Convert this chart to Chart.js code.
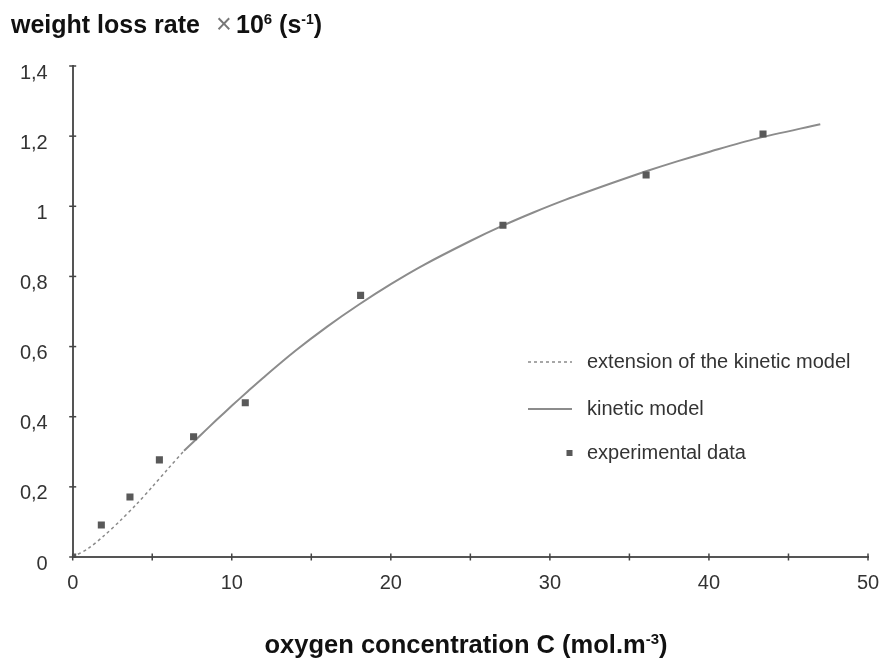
<!DOCTYPE html>
<html>
<head>
<meta charset="utf-8">
<title>weight loss rate vs oxygen concentration</title>
<script src="https://cdn.jsdelivr.net/npm/chart.js@4/dist/chart.umd.min.js"></script>
<style>
  html, body { margin: 0; padding: 0; background: #fff; }
  #wrap { width: 885px; height: 660px; }
</style>
</head>
<body>
<div id="wrap"><canvas id="chart" width="885" height="660"></canvas></div>
<script>
// experimental points (C in mol.m-3, rate x 1e6 in s-1)
const expC    = [0, 1.8, 3.6, 5.45, 7.6, 10.85, 18.1, 27.05, 36.05, 43.4];
const expRate = [0, 0.091, 0.171, 0.277, 0.343, 0.44, 0.746, 0.946, 1.089, 1.206];

// kinetic model curve
const modelC    = [7, 8, 9, 10, 11, 12, 14, 16, 18, 20, 22, 25, 27, 29, 31, 34, 36, 38, 40, 43, 47];
const modelRate = [0.303, 0.346, 0.389, 0.431, 0.472, 0.512, 0.588, 0.657, 0.72, 0.778, 0.831, 0.901, 0.944, 0.983, 1.019, 1.068, 1.099, 1.128, 1.155, 1.193, 1.234];

// dotted extension towards the origin
const extC    = [0, 1, 2, 3, 4, 5, 6, 7];
const extRate = [0, 0.025, 0.062, 0.104, 0.15, 0.2, 0.252, 0.303];

const labels = ["extension of the kinetic model", "kinetic model", "experimental data"];

const FONT = "'Liberation Sans', Arial, Helvetica, sans-serif";

function toPoints(xs, ys) {
    return xs.map((x, i) => ({x: x, y: ys[i]}));
}

function commaNum(v) {
    let s = String(Math.round(v * 10) / 10);
    return s.replace(".", ",");
}

// draws text made of parts, some of them superscript
function drawRich(ctx, parts, x, y) {
    parts.forEach(p => {
        ctx.font = (p.bold ? "bold " : "") + p.size + "px " + FONT;
        ctx.fillStyle = p.color || "#111";
        if (p.at !== undefined) x = p.at;
        ctx.fillText(p.t, x, y - (p.up || 0));
        x += ctx.measureText(p.t).width;
    });
    return x;
}

function richWidth(ctx, parts) {
    let w = 0;
    parts.forEach(p => {
        ctx.font = (p.bold ? "bold " : "") + p.size + "px " + FONT;
        w += ctx.measureText(p.t).width;
    });
    return w;
}

const decorPlugin = {
    id: "decor",
    afterDraw(chart) {
        let ctx = chart.ctx;
        let xs = chart.scales.x, ys = chart.scales.y;
        let area = chart.chartArea;

        ctx.save();
        // ticks crossing the axes
        ctx.strokeStyle = "#444";
        ctx.lineWidth = 1.5;
        xs.ticks.forEach(t => {
            let px = xs.getPixelForValue(t.value);
            ctx.beginPath();
            ctx.moveTo(px, area.bottom - 3.5);
            ctx.lineTo(px, area.bottom + 3.5);
            ctx.stroke();
        });
        ys.ticks.forEach(t => {
            let py = ys.getPixelForValue(t.value);
            ctx.beginPath();
            ctx.moveTo(area.left - 3.5, py);
            ctx.lineTo(area.left + 3.5, py);
            ctx.stroke();
        });

        // axis titles
        ctx.textAlign = "left";
        ctx.textBaseline = "alphabetic";
        drawRich(ctx, [
            {t: "weight loss rate", bold: true, size: 25},
            {t: "\u00d7", size: 27, color: "#777", at: 216},
            {t: "10", bold: true, size: 25, at: 236},
            {t: "6", bold: true, size: 15, up: 9},
            {t: " (s", bold: true, size: 25},
            {t: "-1", bold: true, size: 14, up: 9},
            {t: ")", bold: true, size: 25}
        ], 11, 33);

        let xParts = [
            {t: "oxygen concentration C (mol.m", bold: true, size: 25.5},
            {t: "-3", bold: true, size: 15, up: 9},
            {t: ")", bold: true, size: 25.5}
        ];
        let w = richWidth(ctx, xParts);
        drawRich(ctx, xParts, 466 - w / 2, 653);

        // legend inside the plot
        let sets = chart.data.datasets;
        let rows = [
            {ds: sets[0], y: 362},
            {ds: sets[1], y: 409},
            {ds: sets[2], y: 453}
        ];
        ctx.font = "20px " + FONT;
        ctx.textBaseline = "middle";
        rows.forEach(r => {
            let ds = r.ds;
            if (ds.showLine === false) {
                ctx.fillStyle = ds.pointBackgroundColor;
                ctx.fillRect(566.5, r.y - 3, 6, 6);
            } else {
                ctx.strokeStyle = ds.borderColor;
                ctx.lineWidth = ds.borderWidth;
                ctx.setLineDash(ds.borderDash || []);
                ctx.beginPath();
                ctx.moveTo(528, r.y);
                ctx.lineTo(572, r.y);
                ctx.stroke();
                ctx.setLineDash([]);
            }
            ctx.fillStyle = "#333";
            ctx.fillText(ds.label, 587, r.y);
        });
        ctx.restore();
    }
};

new Chart(document.getElementById("chart"), {
    type: "scatter",
    data: {
        datasets: [
            {
                label: labels[0],
                data: toPoints(extC, extRate),
                showLine: true,
                borderColor: "#8a8a8a",
                borderWidth: 1.5,
                borderDash: [3, 3],
                pointRadius: 0,
                tension: 0.3,
                order: 2
            },
            {
                label: labels[1],
                data: toPoints(modelC, modelRate),
                showLine: true,
                borderColor: "#8c8c8c",
                borderWidth: 2,
                pointRadius: 0,
                tension: 0.3,
                order: 2
            },
            {
                label: labels[2],
                data: toPoints(expC, expRate),
                showLine: false,
                pointStyle: "rect",
                pointRadius: 5,
                pointBackgroundColor: "#595959",
                pointBorderWidth: 0,
                borderColor: "#595959",
                order: 1
            }
        ]
    },
    options: {
        responsive: false,
        animation: false,
        layout: {padding: {top: 66, right: 17, left: 0, bottom: 0}},
        plugins: {
            legend: {display: false},
            tooltip: {enabled: false}
        },
        scales: {
            x: {
                type: "linear",
                min: 0,
                max: 50,
                grid: {display: false, drawTicks: false},
                border: {display: true, color: "#555", width: 2},
                ticks: {
                    stepSize: 5,
                    padding: 14,
                    color: "#333",
                    font: {family: FONT, size: 20},
                    maxRotation: 0,
                    autoSkip: false,
                    callback: v => (v % 10 === 0 ? String(v) : "")
                },
                afterFit: s => {
                    s.height = 103;
                    s.paddingLeft = 0;
                    s.paddingRight = 0;
                }
            },
            y: {
                type: "linear",
                min: 0,
                max: 1.4,
                grid: {display: false, drawTicks: false},
                border: {display: true, color: "#555", width: 2},
                ticks: {
                    stepSize: 0.2,
                    padding: 25,
                    labelOffset: 7,
                    color: "#333",
                    font: {family: FONT, size: 20},
                    callback: v => commaNum(v)
                },
                afterFit: s => {
                    s.width = 72.7;
                    s.paddingTop = 0;
                    s.paddingBottom = 0;
                }
            }
        }
    },
    plugins: [decorPlugin]
});
</script>
</body>
</html>
